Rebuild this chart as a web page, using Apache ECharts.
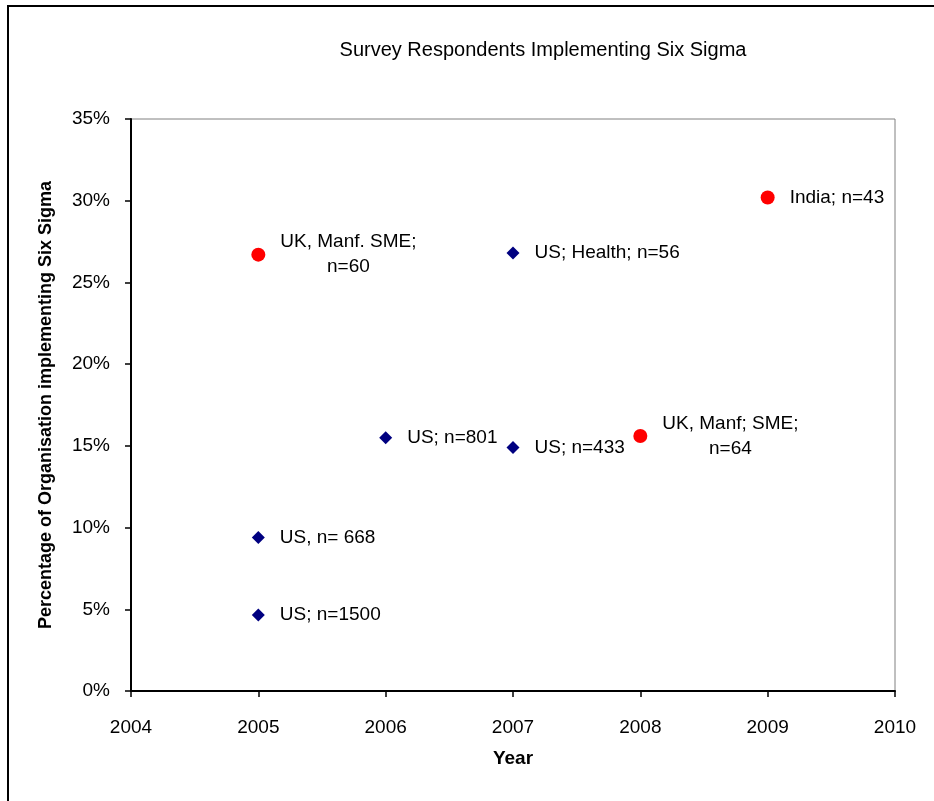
<!DOCTYPE html>
<html>
<head>
<meta charset="utf-8">
<script src="https://cdn.jsdelivr.net/npm/echarts@6/dist/echarts.min.js"></script>
<style>
  html, body { margin: 0; padding: 0; background: #fff; }
  #main { width: 934px; height: 801px; }
</style>
</head>
<body>
<div id="main"></div>
<script>
// US surveys (navy diamonds)
var usYears  = [2005, 2005, 2006, 2007, 2007];
var usValues = [0.0465, 0.094, 0.155, 0.149, 0.268];
var usLabels = ['US; n=1500', 'US, n= 668', 'US; n=801', 'US; n=433', 'US; Health; n=56'];

// UK / India surveys (red circles)
var otherYears  = [2005, 2008, 2009];
var otherValues = [0.267, 0.156, 0.302];
var otherLabels = ['UK, Manf. SME;\nn=60', 'UK, Manf; SME;\nn=64', 'India; n=43'];

var yTicks = [0, 0.05, 0.10, 0.15, 0.20, 0.25, 0.30, 0.35];

var FONT = "'Liberation Sans', Arial, sans-serif";

function makeData(xs, ys, names) {
	var out = [];
	for (var i = 0; i < xs.length; i++) {
		out.push({ value: [xs[i], ys[i]], name: names[i] });
	}
	return out;
}

// lines of a multi-line label are centred on each other
function labelText(p) {
	return p.name.split('\n').map(function (s) { return '{c|' + s + '}'; }).join('\n');
}

var labelStyle = {
	show: true,
	position: 'right',
	distance: 15,
	color: '#000',
	formatter: labelText,
	rich: {
		c: { align: 'center', fontSize: 19, fontFamily: FONT, color: '#000', lineHeight: 25 }
	}
};

var myChart = echarts.init(document.getElementById('main'));

myChart.setOption({
	backgroundColor: '#fff',
	animation: false,
	textStyle: { fontFamily: FONT },
	title: {
		text: 'Survey Respondents Implementing Six Sigma',
		left: 538,
		textAlign: 'center',
		top: 35,
		textStyle: { fontSize: 20, fontWeight: 'normal', color: '#000', fontFamily: FONT }
	},
	graphic: [{
		type: 'rect',
		shape: { x: 8, y: 6, width: 1000, height: 1000 },
		style: { fill: 'none', stroke: '#000', lineWidth: 2 },
		silent: true
	}],
	grid: {
		left: 131, top: 119, right: 39, bottom: 110,
		show: true, borderColor: '#808080', borderWidth: 1, backgroundColor: 'transparent'
	},
	xAxis: {
		type: 'value',
		min: 2004, max: 2010, interval: 1,
		name: 'Year',
		nameLocation: 'middle',
		nameGap: 58,
		nameTextStyle: { fontSize: 19, fontWeight: 'bold', color: '#000', fontFamily: FONT },
		axisLine: { lineStyle: { color: '#000', width: 2 } },
		axisTick: { show: true, length: 6, lineStyle: { color: '#000', width: 1.5 } },
		axisLabel: { fontSize: 19, color: '#000', margin: 27, formatter: function (v) { return String(v); } },
		splitLine: { show: false }
	},
	yAxis: {
		type: 'value',
		min: yTicks[0], max: yTicks[yTicks.length - 1], interval: 0.05,
		name: 'Percentage of Organisation implementing Six Sigma',
		nameLocation: 'middle',
		nameGap: 76,
		nameTextStyle: { fontSize: 18, fontWeight: 'bold', color: '#000', fontFamily: FONT },
		axisLine: { show: true, lineStyle: { color: '#000', width: 2 } },
		axisTick: { show: true, length: 6, lineStyle: { color: '#000', width: 1.5 } },
		axisLabel: { fontSize: 19, color: '#000', margin: 21,
			formatter: function (v) { return Math.round(v * 100) + '%'; } },
		splitLine: { show: false }
	},
	series: [{
		name: 'US',
		type: 'scatter',
		symbol: 'diamond',
		symbolSize: 13,
		itemStyle: { color: '#000080', opacity: 1 },
		label: labelStyle,
		data: makeData(usYears, usValues, usLabels)
	}, {
		name: 'Other',
		type: 'scatter',
		symbol: 'circle',
		symbolSize: 14,
		itemStyle: { color: '#ff0000', opacity: 1 },
		label: labelStyle,
		data: makeData(otherYears, otherValues, otherLabels)
	}]
});
</script>
</body>
</html>
